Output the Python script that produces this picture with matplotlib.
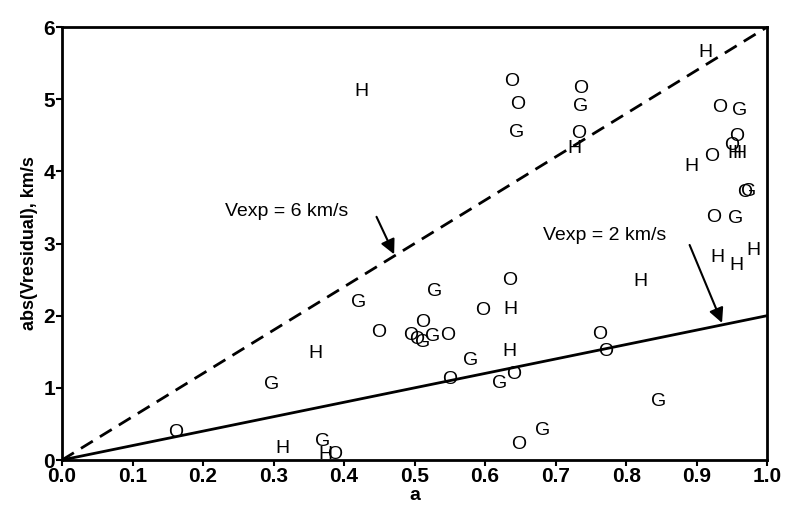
import numpy as np
import matplotlib
matplotlib.use("Agg")
import matplotlib.pyplot as plt

plt.rcParams['font.family'] = ['Liberation Sans', 'DejaVu Sans']

# points, one list per symbol
o_a = [0.637, 0.646, 0.736, 0.733, 0.933, 0.957, 0.950, 0.921, 0.968, 0.924,
       0.763, 0.771, 0.449, 0.161, 0.386, 0.635, 0.596, 0.495, 0.503, 0.547,
       0.512, 0.550, 0.640, 0.647]
o_v = [5.24, 4.92, 5.15, 4.53, 4.89, 4.48, 4.36, 4.20, 3.70, 3.36,
       1.74, 1.50, 1.76, 0.38, 0.07, 2.49, 2.07, 1.73, 1.67, 1.72,
       1.90, 1.12, 1.19, 0.21]

g_a = [0.645, 0.735, 0.961, 0.973, 0.955, 0.846, 0.420, 0.297, 0.369, 0.529,
       0.512, 0.526, 0.579, 0.621, 0.682]
g_v = [4.54, 4.90, 4.84, 3.72, 3.35, 0.81, 2.18, 1.04, 0.25, 2.34,
       1.63, 1.71, 1.38, 1.06, 0.41]

h_a = [0.424, 0.727, 0.913, 0.953, 0.961, 0.893, 0.930, 0.956, 0.980, 0.820,
       0.359, 0.312, 0.373, 0.636, 0.635]
h_v = [5.10, 4.32, 5.65, 4.25, 4.25, 4.07, 2.81, 2.69, 2.90, 2.48,
       1.48, 0.16, 0.08, 2.09, 1.50]

vexp = [6, 2]          # km/s, reference lines abs(Vres) = vexp * a
line_a = [0.0, 1.0]

xticks = np.round(np.arange(0, 1.01, 0.1), 1)
yticks = [0, 1, 2, 3, 4, 5, 6]

fig = plt.figure(figsize=(7.87, 5.07), dpi=100)
ax = fig.add_axes([0.0788, 0.0927, 0.896, 0.854])

ax.plot(line_a, [vexp[0] * a for a in line_a], color='black', lw=2,
        linestyle=(0, (5, 3)))
ax.plot(line_a, [vexp[1] * a for a in line_a], color='black', lw=2)

for sym, xs, ys in [('O', o_a, o_v), ('G', g_a, g_v), ('H', h_a, h_v)]:
    for x, y in zip(xs, ys):
        ax.text(x, y, sym, ha='center', va='center', fontsize=14,
                color='black', zorder=3)

ax.annotate('', xy=(0.471, 2.85), xytext=(0.446, 3.37),
            arrowprops=dict(arrowstyle='-|>', color='black', lw=1.5,
                            mutation_scale=22, shrinkA=0, shrinkB=0))
ax.text(0.318, 3.44, 'Vexp = 6 km/s', ha='center', va='center', fontsize=14)

ax.annotate('', xy=(0.936, 1.9), xytext=(0.890, 2.98),
            arrowprops=dict(arrowstyle='-|>', color='black', lw=1.5,
                            mutation_scale=22, shrinkA=0, shrinkB=0))
ax.text(0.770, 3.11, 'Vexp = 2 km/s', ha='center', va='center', fontsize=14)

ax.set_xlim(0, 1)
ax.set_ylim(0, 6)
ax.set_xticks(xticks)
ax.set_xticklabels(['%.1f' % t for t in xticks])
ax.set_yticks(yticks)
ax.set_yticklabels([str(t) for t in yticks])
ax.tick_params(direction='out', length=4, width=1.5, labelsize=15,
               pad=1)
for lab in ax.get_xticklabels() + ax.get_yticklabels():
    lab.set_fontweight('bold')
for s in ax.spines.values():
    s.set_linewidth(2)

ax.set_xlabel('a', fontsize=14, fontweight='bold', labelpad=1)
ax.set_ylabel('abs(Vresidual), km/s', fontsize=13, fontweight='bold',
              labelpad=4)

fig.savefig('out.png', dpi=100)
